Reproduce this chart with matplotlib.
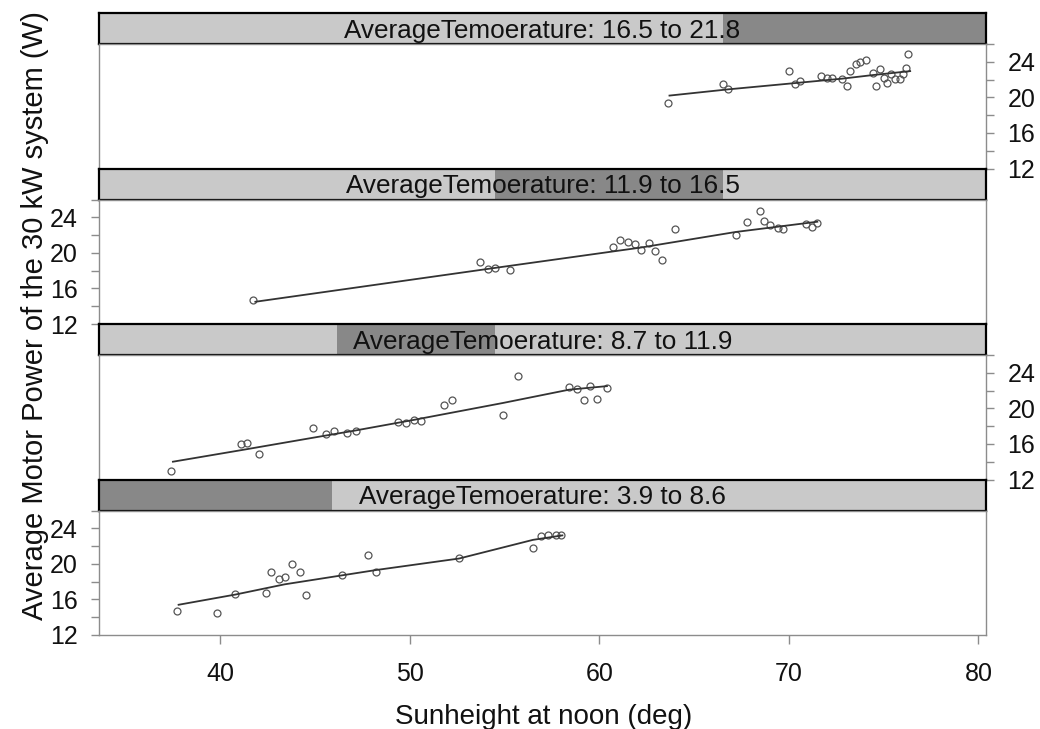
import numpy as np
import matplotlib
matplotlib.use('Agg')
import matplotlib.pyplot as plt

plt.rcParams['font.family'] = ['Liberation Sans', 'DejaVu Sans']

# shingle levels of average temperature (bottom panel first)
temp_lo = [3.9, 8.7, 11.9, 16.5]
temp_hi = [8.6, 11.9, 16.5, 21.8]

# sun height (deg) and motor power (W) per temperature level
sun1 = [37.7, 39.8, 40.8, 42.4, 42.7, 43.1, 43.4, 43.8, 44.2, 44.5, 46.4, 47.8, 48.2, 52.6, 56.5, 56.9, 57.3, 57.7, 58.0]
pow1 = [14.7, 14.5, 16.6, 16.7, 19.1, 18.3, 18.5, 20.0, 19.1, 16.5, 18.7, 21.0, 19.1, 20.7, 21.8, 23.1, 23.3, 23.3, 23.3]
sun2 = [37.4, 41.1, 41.4, 42.05, 44.9, 45.6, 46.0, 46.7, 47.15, 49.4, 49.8, 50.2, 50.6, 51.8, 52.2, 54.9, 55.7,
        58.4, 58.8, 59.2, 59.5, 59.9, 60.4]
pow2 = [12.9, 16.0, 16.1, 14.9, 17.8, 17.1, 17.4, 17.2, 17.5, 18.5, 18.4, 18.7, 18.6, 20.4, 20.9, 19.2, 23.6,
        22.4, 22.2, 20.9, 22.5, 21.0, 22.3]
sun3 = [41.75, 53.7, 54.1, 54.5, 55.3, 60.7, 61.1, 61.5, 61.9, 62.2, 62.6, 62.95, 63.3, 64.0, 67.2, 67.8, 68.45,
        68.7, 69.0, 69.4, 69.7, 70.9, 71.2, 71.5]
pow3 = [14.7, 19.0, 18.2, 18.3, 18.1, 20.7, 21.4, 21.2, 21.0, 20.3, 21.1, 20.2, 19.2, 22.7, 22.0, 23.5, 24.7,
        23.6, 23.1, 22.8, 22.7, 23.2, 22.9, 23.4]
sun4 = [63.6, 66.5, 66.8, 70.0, 70.3, 70.6, 71.7, 72.0, 72.3, 72.8, 73.05, 73.25, 73.55, 73.75, 74.05, 74.45, 74.6,
        74.8, 75.0, 75.2, 75.4, 75.6, 75.85, 76.0, 76.2, 76.3]
pow4 = [19.4, 21.5, 20.9, 23.0, 21.5, 21.85, 22.4, 22.2, 22.2, 22.1, 21.3, 23.0, 23.7, 24.0, 24.2, 22.7, 21.3,
        23.2, 22.2, 21.6, 22.6, 22.1, 22.1, 22.6, 23.3, 24.9]

# smoother
fit_x1 = [37.8, 40.8, 43.4, 46.4, 48.2, 52.6, 56.5, 58.05]
fit_y1 = [15.4, 16.55, 17.7, 18.7, 19.3, 20.6, 22.7, 23.2]
fit_x2 = [37.5, 41.1, 44.9, 47.1, 50.2, 54.9, 58.4, 60.4]
fit_y2 = [14.0, 15.3, 16.7, 17.5, 18.7, 20.6, 22.1, 22.5]
fit_x3 = [41.85, 54.3, 62.2, 67.2, 71.5]
fit_y3 = [14.5, 18.25, 20.6, 22.35, 23.5]
fit_x4 = [63.7, 66.8, 70.3, 72.8, 74.4, 76.4]
fit_y4 = [20.2, 20.9, 21.6, 22.1, 22.5, 22.95]

sun = [sun1, sun2, sun3, sun4]
pw = [pow1, pow2, pow3, pow4]
fx = [fit_x1, fit_x2, fit_x3, fit_x4]
fy = [fit_y1, fit_y2, fit_y3, fit_y4]

W, H = 1040, 729
fig = plt.figure(figsize=(W / 100, H / 100), dpi=100)

left, right = 99, 986
strip_h, pan_h = 31, 124.5
top0 = 13
axcol = '#8c8c8c'
txt = '#111111'

for i in range(4):
    k = 3 - i   # level index, top panel is the warmest
    st = top0 + i * (strip_h + pan_h)
    pt = st + strip_h
    sax = fig.add_axes([left / W, 1 - pt / H, (right - left) / W, strip_h / H])
    pax = fig.add_axes([left / W, 1 - (pt + pan_h) / H, (right - left) / W, pan_h / H])

    # strip
    sax.set_xlim(temp_lo[0], temp_hi[-1])
    sax.set_ylim(0, 1)
    sax.set_facecolor('#c9c9c9')
    sax.axvspan(temp_lo[k], temp_hi[k], color='#888888', lw=0)
    sax.set_xticks([])
    sax.set_yticks([])
    for s in sax.spines.values():
        s.set_color('black')
        s.set_linewidth(1.6)
    sax.text(0.5, 0.42, 'AverageTemoerature: %.1f to %.1f' % (temp_lo[k], temp_hi[k]),
             transform=sax.transAxes, ha='center', va='center', fontsize=18.8, color=txt)

    # panel
    pax.plot(sun[k], pw[k], 'o', mfc='none', mec='#555555', ms=5, mew=0.9)
    pax.plot(fx[k], fy[k], '-', color='#333333', lw=1.3)
    pax.set_xlim(33.6, 80.4)
    pax.set_ylim(12, 26)
    for s in pax.spines.values():
        s.set_color(axcol)
        s.set_linewidth(1.0)
    yt = np.arange(12, 27, 2)
    pax.set_yticks(yt)
    pax.set_yticklabels([str(v) if v in (12, 16, 20, 24) else '' for v in yt])
    if i % 2 == 0:
        pax.yaxis.tick_right()
    else:
        pax.yaxis.tick_left()
    pax.tick_params(axis='y', colors=axcol, labelcolor=txt, length=6, width=1.0,
                    labelsize=18, pad=9.5)
    if i == 3:
        pax.set_xticks([40, 50, 60, 70, 80])
        pax.tick_params(axis='x', colors=axcol, labelcolor=txt, length=6.5, width=1.0,
                        labelsize=18, pad=13)
    else:
        pax.set_xticks([])

fig.text(544 / W, 1 - 716.5 / H, 'Sunheight at noon (deg)', ha='center', va='center',
         fontsize=20, color=txt)
fig.text(35 / W, 1 - 316 / H, 'Average Motor Power of the 30 kW system (W)', rotation=90,
         ha='center', va='center', fontsize=21, color=txt)

fig.savefig('out.png', dpi=100)
